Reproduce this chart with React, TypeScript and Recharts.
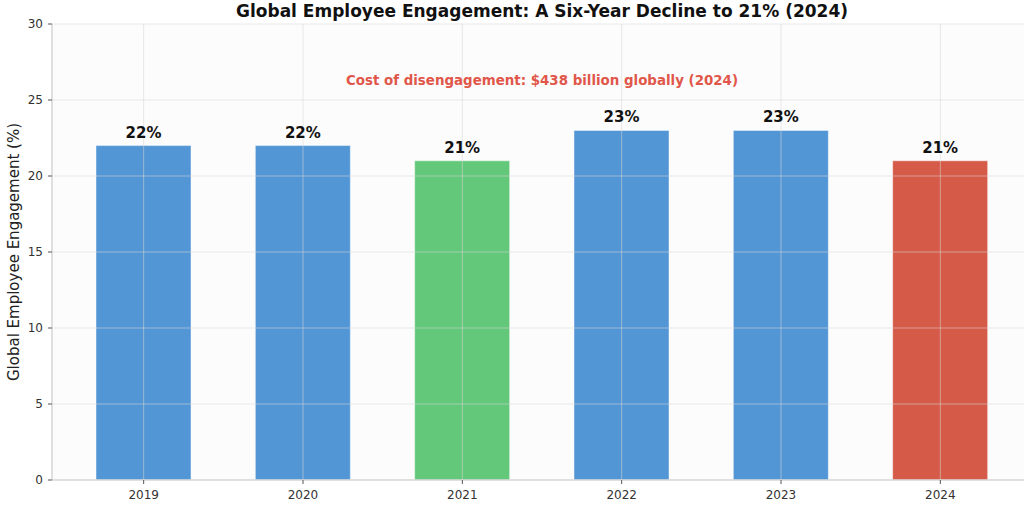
import React from "react";
import {
  BarChart,
  Bar,
  Cell,
  XAxis,
  YAxis,
  CartesianGrid,
  ReferenceLine,
  LabelList,
} from "recharts";

const YEARS = ["2019", "2020", "2021", "2022", "2023", "2024"];
const ENGAGEMENT = [22, 22, 21, 23, 23, 21];
const Y_TICKS = [0, 5, 10, 15, 20, 25, 30];

const TITLE = "Global Employee Engagement: A Six-Year Decline to 21% (2024)";
const NOTE = "Cost of disengagement: $438 billion globally (2024)";
const Y_LABEL = "Global Employee Engagement (%)";

const BLUE = "#5296d5";
const GREEN = "#63c87a";
const RED = "#d55a47";
const BAR_COLORS = [BLUE, BLUE, GREEN, BLUE, BLUE, RED];

const FONT = "'DejaVu Sans', sans-serif";
const GRID_STROKE = "rgba(215,215,215,0.55)";
const SPINE = "#d6d6d6";

const data = YEARS.map((year, i) => ({ year, value: ENGAGEMENT[i] }));

// Titles live in a plain svg laid over the chart so baselines are exact.
function Overlay(): React.ReactElement {
  return (
    <svg
      width={1024}
      height={509}
      style={{
        position: "absolute",
        left: 0,
        top: 0,
        pointerEvents: "none",
        overflow: "visible",
        zIndex: 5,
      }}
    >
      <text
        x={542}
        y={17}
        textAnchor="middle"
        fontFamily={FONT}
        fontSize={17}
        fontWeight="bold"
        fill="#111"
      >
        {TITLE}
      </text>
      <text
        x={542}
        y={85}
        textAnchor="middle"
        fontFamily={FONT}
        fontSize={13.4}
        fontWeight="bold"
        fill="#e0574a"
      >
        {NOTE}
      </text>
      <text
        transform="translate(19,252) rotate(-90)"
        textAnchor="middle"
        fontFamily={FONT}
        fontSize={15}
        fill="#222"
      >
        {Y_LABEL}
      </text>
    </svg>
  );
}

export default function App(): React.ReactElement {
  return (
    <div
      style={{
        position: "fixed",
        left: 0,
        top: 0,
        width: 1024,
        height: 509,
        overflow: "hidden",
        background: "#fff",
      }}
    >
      <BarChart
        width={1040}
        height={509}
        data={data}
        margin={{ top: 24, right: 8, left: 0, bottom: 0 }}
      >
        <CartesianGrid fill="#fcfcfc" horizontal={false} vertical={false} />
        <XAxis
          dataKey="year"
          padding={{ left: 12, right: 12 }}
          height={29}
          tickSize={4}
          tickMargin={6}
          axisLine={{ stroke: SPINE, strokeWidth: 1.5 }}
          tickLine={{ stroke: "#555" }}
          tick={{ fontSize: 12, fill: "#333", fontFamily: FONT }}
        />
        <YAxis
          width={52}
          domain={[0, 30]}
          ticks={Y_TICKS}
          tickSize={4}
          tickMargin={5}
          axisLine={{ stroke: SPINE, strokeWidth: 1.5 }}
          tickLine={{ stroke: "#555" }}
          tick={{ fontSize: 12, fill: "#333", fontFamily: FONT }}
        />
        <Bar
          dataKey="value"
          barSize={95}
          stroke="rgba(255,255,255,0.45)"
          strokeWidth={1}
          isAnimationActive={false}
        >
          {data.map((d, i) => (
            <Cell key={d.year} fill={BAR_COLORS[i]} />
          ))}
          <LabelList
            dataKey="value"
            position="top"
            offset={8}
            formatter={(v: number) => `${v}%`}
            style={{
              fontSize: 15,
              fontWeight: "bold",
              fill: "#111",
              fontFamily: FONT,
            }}
          />
        </Bar>
        {/* grid sits over the bars, as in the source */}
        {Y_TICKS.slice(1).map((t) => (
          <ReferenceLine key={`y${t}`} y={t} stroke={GRID_STROKE} />
        ))}
        {YEARS.map((y) => (
          <ReferenceLine key={`x${y}`} x={y} stroke={GRID_STROKE} />
        ))}
      </BarChart>
      <Overlay />
    </div>
  );
}
